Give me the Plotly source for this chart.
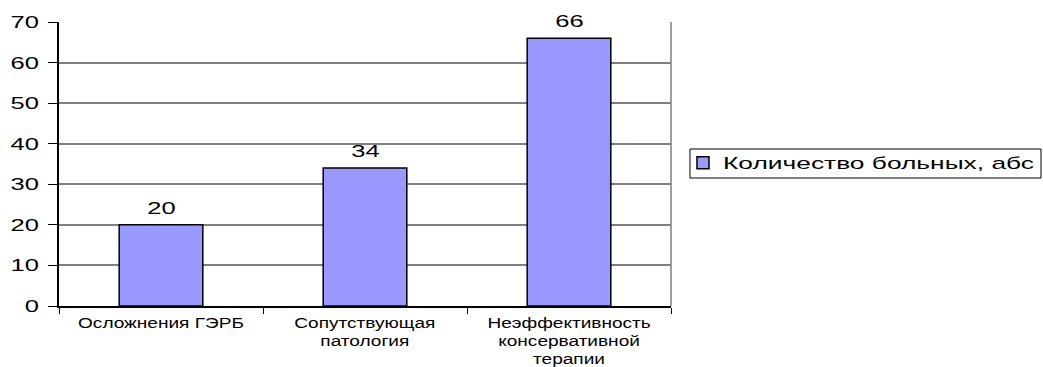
import plotly.graph_objects as go

categories = ["Осложнения ГЭРБ", "Сопутствующая<br>патология", "Неэффективность<br>консервативной<br>терапии"]
values = [20, 34, 66]
series_name = "Количество больных, абс"
y_ticks = [0, 10, 20, 30, 40, 50, 60, 70]

FONT = "Liberation Sans, Arial, sans-serif"
BAR_FILL = "#9999FF"
GRID = "#808080"

positions = list(range(len(categories)))

fig = go.Figure()
fig.add_trace(go.Bar(
    x=positions,
    y=values,
    name=series_name,
    width=0.41,
    marker=dict(color=BAR_FILL, line=dict(color="#000000", width=1.5)),
    showlegend=True,
))

# value labels above the bars
for p, v in zip(positions, values):
    fig.add_annotation(
        x=p, y=v, xref="x", yref="y",
        text=str(v), showarrow=False,
        yanchor="bottom", yshift=5,
        font=dict(family=FONT, size=17, color="#000000"),
    )

# category labels under each bar
for p, label in zip(positions, categories):
    fig.add_annotation(
        x=p, y=0, xref="x", yref="paper",
        text=label, showarrow=False,
        yanchor="top", yshift=-7,
        font=dict(family=FONT, size=14, color="#000000"),
        align="center",
    )

# right frame line of the plot area
fig.add_shape(type="line", xref="paper", yref="y", x0=1, x1=1, y0=0, y1=70,
              line=dict(color=GRID, width=1.5))

# legend frame
fig.add_shape(type="rect", xref="paper", yref="paper",
              x0=1.031, x1=1.6046, y0=0.4507, y1=0.5528,
              line=dict(color="#000000", width=1), fillcolor="rgba(0,0,0,0)")

fig.update_layout(
    width=1043, height=367,
    margin=dict(l=59, r=372, t=22, b=61),
    paper_bgcolor="white", plot_bgcolor="white",
    font=dict(family=FONT, color="#000000"),
    xaxis=dict(
        range=[-0.5, 2.5],
        tickvals=[-0.5, 0.5, 1.5, 2.5],
        ticktext=["", "", "", ""],
        ticks="outside", ticklen=6, tickcolor="#000000",
        showgrid=False, showline=True, linecolor="#000000", linewidth=1.5,
        zeroline=False,
    ),
    yaxis=dict(
        range=[0, 70],
        tickvals=y_ticks,
        ticks="outside", ticklen=9, tickcolor="#000000",
        tickfont=dict(family=FONT, size=17, color="#000000"),
        ticklabelstandoff=6,
        showgrid=True, gridcolor=GRID, gridwidth=1.5,
        showline=True, linecolor="#000000", linewidth=1.5,
        zeroline=False,
    ),
    legend=dict(
        x=1.0196, y=0.503, xanchor="left", yanchor="middle",
        borderwidth=0,
        font=dict(family=FONT, size=17, color="#000000"),
        bgcolor="rgba(0,0,0,0)",
    ),
)

# widen the lettering horizontally (wide typeface look)
stretch_js = """
var gd = document.getElementById('{plot_id}');
function widen(el, k) {
    var w = el.getComputedTextLength();
    if (w > 0) {
        el.setAttribute('textLength', (w * k).toFixed(2));
        el.setAttribute('lengthAdjust', 'spacingAndGlyphs');
    }
}
gd.querySelectorAll('.ytick text, .legendtext, .annotation-text').forEach(function (t) {
    var size = parseFloat(t.style.fontSize) || 17;
    var k = size < 15 ? 1.36 : 1.5;
    if (t.classList.contains('legendtext')) { k = 1.55; }
    var lines = t.querySelectorAll('tspan.line');
    if (lines.length) {
        lines.forEach(function (s) { widen(s, k); });
    } else {
        widen(t, k);
    }
});
// let the widened legend entry extend past its computed box
gd.querySelectorAll('.legend [clip-path]').forEach(function (e) {
    e.removeAttribute('clip-path');
});
"""

fig.write_html("out.html", post_script=stretch_js)
